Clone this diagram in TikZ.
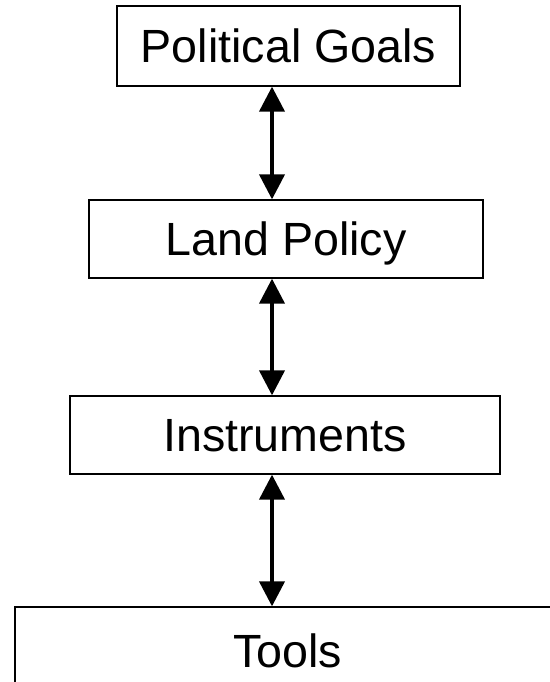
\documentclass[tikz,border=0pt]{standalone}
\usepackage{xcolor}
\usepackage{fontspec}
\setmainfont{Liberation Sans}
\usetikzlibrary{arrows.meta}

\begin{document}
\begin{tikzpicture}[x=1pt, y=-1pt,
    level/.style={draw, line width=1.3pt, font=\fontsize{46.6}{56}\selectfont,
      text height=33.4pt, text depth=0pt, inner sep=0pt, anchor=center},
    link/.style={{Triangle[width=25pt,length=25pt]}-{Triangle[width=25pt,length=25pt]}, line width=4pt}]
    \useasboundingbox (0,0) rectangle (549,682);
    % 层级方框
    \node[level, minimum width=343pt, minimum height=80pt] (goals) at (288.5,46) {Political Goals};
    \node[level, minimum width=394pt, minimum height=78pt] (policy) at (286,239) {Land Policy};
    \node[level, minimum width=430pt, minimum height=78pt] (instr) at (285,435) {Instruments};
    \node[level, minimum width=545pt, minimum height=88pt] (tools) at (287.5,651) {Tools};
    % 双向箭头
    \coordinate (axis) at (272,0);
    \draw[link] (goals.south -| axis) -- (policy.north -| axis);
    \draw[link] (policy.south -| axis) -- (instr.north -| axis);
    \draw[link] (instr.south -| axis) -- (tools.north -| axis);
\end{tikzpicture}
\end{document}
